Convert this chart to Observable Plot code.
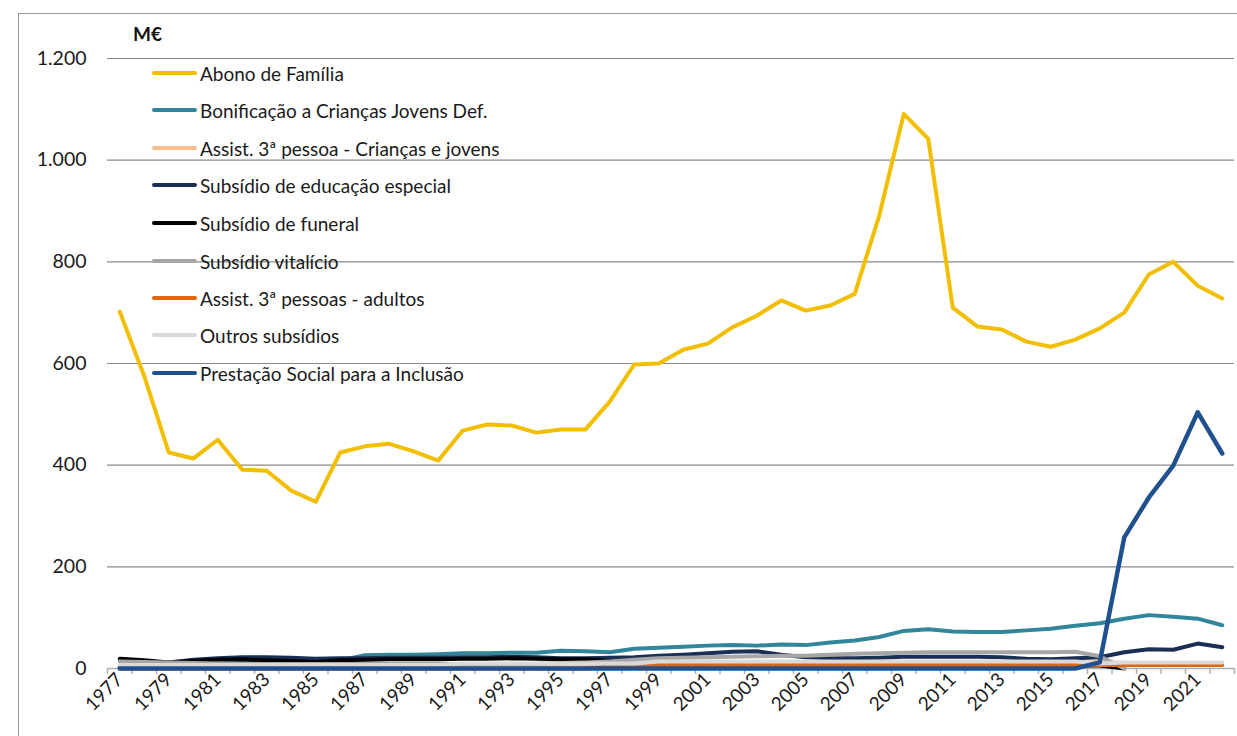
<!DOCTYPE html>
<html>
<head>
<meta charset="utf-8">
<script src="https://cdn.jsdelivr.net/npm/d3@7"></script>
<script src="https://cdn.jsdelivr.net/npm/@observablehq/plot@0.6"></script>
<style>
  html, body { margin: 0; padding: 0; background: #fff; }
  body { width: 1237px; height: 736px; position: relative; overflow: hidden; font-family: Lato, "Open Sans", sans-serif; }
  #chart { position: absolute; left: 0; top: 0; }
  #frame { position: absolute; left: 18px; top: 13px; width: 1300px; height: 800px; border-left: 1.5px solid #9a9a9a; border-top: 1.5px solid #9a9a9a; pointer-events: none; }
  #unit { position: absolute; left: 133px; top: 22px; font-size: 19px; font-weight: bold; color: #111; }
  #legend { position: absolute; left: 152px; top: 0; }
  .lg { position: absolute; left: 0; white-space: nowrap; display: flex; align-items: center; font-size: 19px; color: #1a1a1a; }
  .lg .sw { width: 45px; height: 4px; border-radius: 2px; margin-right: 3px; }
</style>
</head>
<body>
<div id="frame"></div>
<div id="chart"></div>
<div id="unit">M€</div>
<div id="legend"></div>
<script>
const years = d3.range(1977, 2023);

const seriesNames = [
  "Abono de Família",
  "Bonificação a Crianças Jovens Def.",
  "Assist. 3ª pessoa - Crianças e jovens",
  "Subsídio de educação especial",
  "Subsídio de funeral",
  "Subsídio vitalício",
  "Assist. 3ª pessoas - adultos",
  "Outros subsídios",
  "Prestação Social para a Inclusão"
];
const seriesColors = ["#F2BE00", "#31869B", "#F9BE8E", "#1B2F55", "#000000", "#A6A6A6", "#E0660F", "#D9D9D9", "#21508F"];

const abono = [702, 575, 425, 413, 450, 391, 389, 350, 328, 425, 437, 442, 427, 409, 468, 480, 478, 464, 470, 470,
  525, 598, 600, 627, 639, 671, 694, 724, 704, 714, 737, 891, 1091, 1042, 710, 673, 667, 643, 633, 647,
  669, 700, 775, 800, 753, 728];
const bonificacao = [2, 4, 6, 8, 10, 11, 12, 13, 14, 16, 26, 27, 27, 28, 30, 30, 31, 31, 35, 34,
  32, 39, 41, 43, 45, 46, 45, 47, 46, 51, 55, 62, 74, 77, 73, 72, 72, 75, 78, 84,
  89, 98, 105, 102, 98, 85];
const assistCriancas = [2, 2, 2, 2, 2, 2, 2, 2, 2, 5, 5, 5, 5, 5, 9, 9, 9, 9, 9, 9,
  9, 9, 9, 9, 9, 9, 9, 9, 9, 9, 9, 9, 9, 9, 9, 9, 9, 9, 9, 10,
  14, 11, 11, 11, 11, 11];
const educacaoEspecial = [3, 8, 12, 17, 20, 22, 22, 21, 19, 20, 20, 21, 21, 21, 22, 22, 23, 22, 20, 20,
  21, 22, 25, 27, 30, 33, 34, 27, 22, 20, 20, 21, 23, 23, 23, 23, 22, 19, 18, 20,
  22, 32, 38, 37, 49, 42];
const funeral = [19, 16, 12, 15, 17, 18, 16, 15, 13, 16, 17, 18, 18, 18, 19, 19, 20, 19, 18, 18,
  15, 8, 6, 6, 6, 6, 6, 6, 6, 6, 6, 6, 6, 6, 6, 6, 6, 6, 6, 6,
  6, 0, null, null, null, null];
const vitalicio = [14, 13, 12, 11, 10, 9, 9, 9, 9, 9, 9, 9, 9, 9, 9, 9, 9, 9, 11, 12,
  14, 17, 20, 21, 22, 23, 24, 25, 25, 27, 29, 30, 31, 32, 32, 32, 32, 32, 32, 33,
  24, 0, null, null, null, null];
const assistAdultos = [0, 0, 0, 0, 0, 0, 0, 0, 0, 0, 0, 0, 0, 0, 0, 0, 0, 0, 0, 0,
  4, 7, 7, 7, 7, 7, 7, 7, 7, 7, 7, 7, 7, 7, 7, 7, 7, 7, 7, 7,
  7, 7, 7, 7, 7, 7];
const outros = [7, 7, 7, 7, 7, 7, 7, 7, 7, 7, 7, 7, 7, 7, 10, 10, 10, 10, 10, 10,
  10, 10, 14, 14, 14, 14, 14, 14, 14, 14, 14, 14, 14, 14, 14, 14, 14, 14, 14, 14,
  10, 12, 12, 12, 12, 12];
const prestacao = [0, 0, 0, 0, 0, 0, 0, 0, 0, 0, 0, 0, 0, 0, 0, 0, 0, 0, 0, 0,
  0, 0, 0, 0, 0, 0, 0, 0, 0, 0, 0, 0, 0, 0, 0, 0, 0, 0, 0, 0,
  12, 258, 336, 399, 504, 423];

const yTicks = [0, 200, 400, 600, 800, 1000, 1200];
const xLabelYears = years.filter(y => y % 2 === 1);
const xBoundaries = d3.range(1976.5, 2023, 1);

const seriesValues = [abono, bonificacao, assistCriancas, educacaoEspecial, funeral, vitalicio, assistAdultos, outros, prestacao];
const seriesWidths = [4, 4, 4, 4, 4, 4, 4, 4, 4.5];

const rows = [];
seriesNames.forEach((name, i) => {
  years.forEach((yr, j) => rows.push({series: name, year: yr, value: seriesValues[i][j]}));
});

const ptLocale = d3.formatLocale({decimal: ",", thousands: ".", grouping: [3], currency: ["", " €"]});
const fmt = ptLocale.format(",");

const lineMarks = seriesNames.map((name, i) =>
  Plot.line(rows.filter(r => r.series === name), {
    x: "year", y: "value", stroke: seriesColors[i], strokeWidth: seriesWidths[i],
    strokeLinejoin: "round", strokeLinecap: "round", defined: d => d.value != null
  })
);

const chart = Plot.plot({
  width: 1237,
  height: 736,
  marginLeft: 107,
  marginRight: 3,
  marginTop: 58,
  marginBottom: 68,
  style: {fontFamily: "Lato, 'Open Sans', sans-serif", background: "transparent", color: "#1a1a1a"},
  x: {domain: [1976.5, 2022.5]},
  y: {domain: [0, 1200]},
  marks: [
    Plot.gridY(yTicks.filter(d => d > 0), {stroke: "#8a8a8a", strokeOpacity: 1, strokeWidth: 1.2}),
    Plot.axisY({ticks: yTicks, tickSize: 0, tickPadding: 21, tickFormat: fmt, fontSize: 19.5, label: null}),
    Plot.ruleY([0], {stroke: "#b0b0b0", strokeWidth: 1.5}),
    Plot.axisX({ticks: xBoundaries, tickSize: 6, tickFormat: () => "", stroke: "#b0b0b0", strokeWidth: 1.5, label: null}),
    Plot.axisX({ticks: xLabelYears, tickSize: 0, tickPadding: 8, tickRotate: -45, tickFormat: d => String(d), fontSize: 19, label: null}),
    ...lineMarks
  ]
});
document.getElementById("chart").appendChild(chart);

const legend = document.getElementById("legend");
const legendTops = [73, 110, 148, 185, 223, 261, 298, 335, 373];
seriesNames.forEach((name, i) => {
  const row = document.createElement("div");
  row.className = "lg";
  row.style.top = (legendTops[i] - 12) + "px";
  row.style.height = "24px";
  const sw = document.createElement("span");
  sw.className = "sw";
  sw.style.background = seriesColors[i];
  const tx = document.createElement("span");
  tx.textContent = name;
  row.appendChild(sw);
  row.appendChild(tx);
  legend.appendChild(row);
});
</script>
</body>
</html>
